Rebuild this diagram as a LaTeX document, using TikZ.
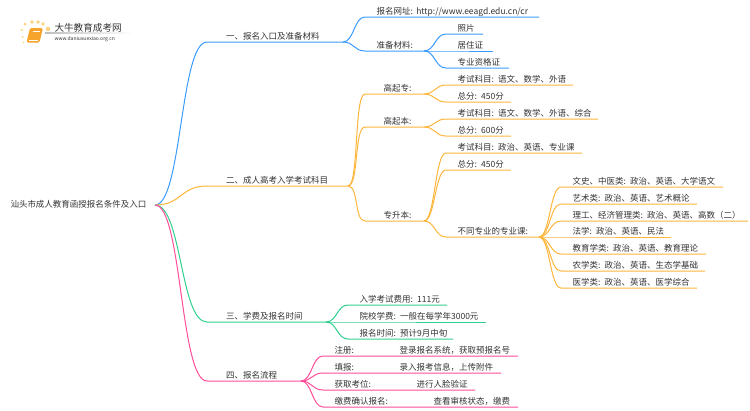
\documentclass[tikz,border=0pt]{standalone}
\usepackage{fontspec}
\setmainfont{Noto Sans CJK SC}

\definecolor{inkgray}{HTML}{333333}
\definecolor{lineblue}{HTML}{3A9BFF}
\definecolor{lineorange}{HTML}{FDB53C}
\definecolor{linegreen}{HTML}{2FD08D}
\definecolor{linepink}{HTML}{FF4D9A}
\definecolor{bookorange}{HTML}{F7A42C}
\definecolor{dotyellow}{HTML}{FCD27E}

\begin{document}
\begin{tikzpicture}
  [x=1pt, y=-1pt, line width=1pt,
   every node/.style={text=inkgray, anchor=south west, inner xsep=0pt, inner ysep=0.5pt,
                      text depth=2pt, font=\fontsize{8.5}{10}\selectfont},
   branch/.style={text width=#1pt, execute at begin node={\hspace*{18.5pt}}},
   middle/.style={text width=#1pt, execute at begin node={\hspace*{18pt}}},
   leaf/.style={text width=#1pt, execute at begin node={\spaceskip=1.7pt\relax\hspace*{11pt}}},
   link/.style={out=0, in=180, distance=#1}]

  \useasboundingbox (0,0) rectangle (750,410);

  % logo
  \shade[left color=black!25, right color=white] (45,32.7) rectangle (133,33.3);
  \fill[bookorange, rounded corners=1.5pt] (30,28) -- (43,28) -- (39.5,42.5) -- (26.5,42.5) -- cycle;
  \draw[white, line width=0.5pt] (33,31) -- (40,31);
  \draw[white, line width=0.5pt] (28.5,40) -- (38,40);
  \foreach \dotx/\doty/\dotr in {22/30/1.2, 25/24/1.5, 32/22/1.8, 38/22/1.8, 43/24/1.8, 48/29/2.2, 22.5/37/1, 23.5/42.5/0.8}
    \fill[dotyellow] (\dotx,\doty) circle (\dotr);
  \node[font=\fontsize{9.6}{11}\selectfont] (logoname) at (54,34) {大牛教育成考网};
  \node[font=\fontsize{5}{6}\selectfont] (logourl) at (54,43.5) {www.daniuxuexiao.org.cn};

  \node[anchor=west, inner xsep=8pt] (root) at (2,205) {汕头市成人教育函授报名条件及入口};

  \node[branch=135] (one) at (207,42) {一、报名入口及准备材料};
  \node[leaf=173] (url) at (365,17) {报名网址:\hspace{3.4pt}http://www.eeagd.edu.cn/cr};
  \node[leaf=58] (prepare) at (365,51) {准备材料:};
  \node[leaf=36] (photo) at (446,34) {照片};
  \node[leaf=46] (residence) at (446,51) {居住证};
  \node[leaf=62] (cert) at (446,68) {专业资格证};

  \node[branch=140] (two) at (207,186) {二、成人高考入学考试科目};
  \node[middle=58] (zhuan) at (365,94) {高起专:};
  \node[leaf=126] (zhuansub) at (446,85) {考试科目: 语文、数学、外语};
  \node[leaf=64] (zhuanscore) at (446,102) {总分: 450分};
  \node[middle=58] (ben) at (365,127) {高起本:};
  \node[leaf=151] (bensub) at (446,119) {考试科目: 语文、数学、外语、综合};
  \node[leaf=64] (benscore) at (446,136) {总分: 600分};
  \node[middle=58] (sheng) at (365,221) {专升本:};
  \node[leaf=135] (shengsub) at (446,153) {考试科目: 政治、英语、专业课};
  \node[leaf=64] (shengscore) at (446,170) {总分: 450分};
  \node[leaf=92] (major) at (446,237) {不同专业的专业课:};
  \node[leaf=161] (wenshi) at (561,187) {文史、中医类: 政治、英语、大学语文};
  \node[leaf=135] (yishu) at (561,204) {艺术类: 政治、英语、艺术概论};
  \node[leaf=186] (ligong) at (561,221) {理工、经济管理类: 政治、英语、高数（二）};
  \node[leaf=109] (faxue) at (561,237) {法学: 政治、英语、民法};
  \node[leaf=144] (jiaoyu) at (561,254) {教育学类: 政治、英语、教育理论};
  \node[leaf=143] (nongxue) at (561,271) {农学类: 政治、英语、生态学基础};
  \node[leaf=135] (yixue) at (561,288) {医学类: 政治、英语、医学综合};

  \node[branch=118] (three) at (207,322) {三、学费及报名时间};
  \node[leaf=98] (examfee) at (348,305) {入学考试费用: 111元};
  \node[leaf=137] (schoolfee) at (348,322) {院校学费: 一般在每学年3000元};
  \node[leaf=104] (regtime) at (348,339) {报名时间: 预计9月中旬};

  \node[branch=93] (four) at (207,381) {四、报名流程};
  \node[leaf=194] (signup) at (323,356) {\makebox[65pt][l]{注册:}登录报名系统，获取预报名号};
  \node[leaf=177] (fillin) at (323,373) {\makebox[65pt][l]{填报:}录入报考信息，上传附件};
  \node[leaf=151] (seat) at (323,390) {\makebox[82pt][l]{获取考位:}进行人脸验证};
  \node[leaf=194] (payment) at (323,407) {\makebox[99pt][l]{缴费确认报名:}查看审核状态，缴费};

  % connectors
  \foreach \tonode/\tocolor in {one/lineblue, two/lineorange, three/linegreen, four/linepink}
    \draw[\tocolor] (root.east) to[link=27] (\tonode.south west) -- (\tonode.south east);

  \foreach \fromnode/\tonode in {one/url, one/prepare, prepare/photo, prepare/residence, prepare/cert}
    \draw[lineblue] (\fromnode.south east) to[link=11] (\tonode.south west) -- (\tonode.south east);

  \foreach \fromnode/\tonode in {two/zhuan, two/ben, two/sheng, zhuan/zhuansub, zhuan/zhuanscore,
      ben/bensub, ben/benscore, sheng/shengsub, sheng/shengscore, sheng/major,
      major/wenshi, major/yishu, major/ligong, major/faxue, major/jiaoyu, major/nongxue, major/yixue}
    \draw[lineorange] (\fromnode.south east) to[link=11] (\tonode.south west) -- (\tonode.south east);

  \foreach \tonode in {examfee, schoolfee, regtime}
    \draw[linegreen] (three.south east) to[link=11] (\tonode.south west) -- (\tonode.south east);

  \foreach \tonode in {signup, fillin, seat, payment}
    \draw[linepink] (four.south east) to[link=11] (\tonode.south west) -- (\tonode.south east);
\end{tikzpicture}
\end{document}
